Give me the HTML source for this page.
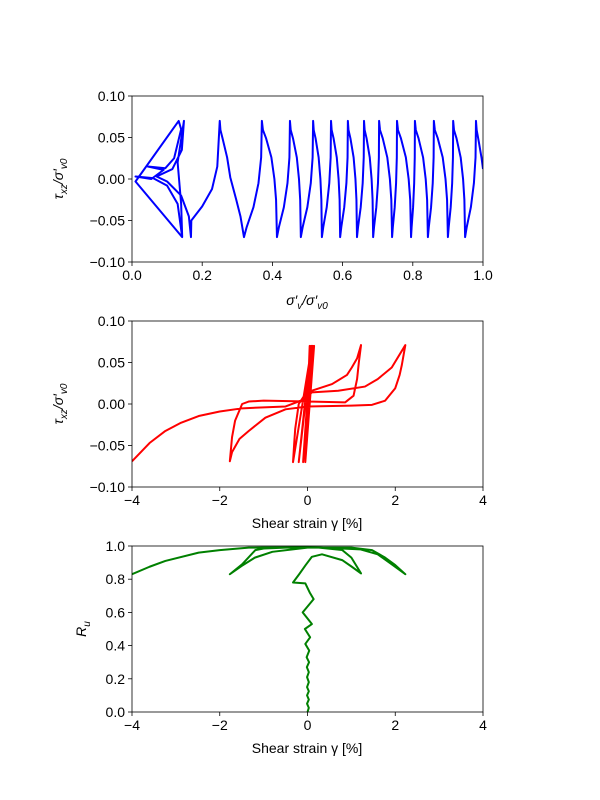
<!DOCTYPE html>
<html><head><meta charset="utf-8">
<style>
html,body{margin:0;padding:0;background:#fff;}
svg{display:block;font-family:"Liberation Sans","DejaVu Sans",sans-serif;}
</style></head>
<body>
<svg id="chart" width="600" height="800" viewBox="0 0 600 800" xmlns="http://www.w3.org/2000/svg"></svg>
<script>
// ---- data ----
const p1Peaks = [0.37,0.45,0.516,0.567,0.615,0.661,0.704,0.755,0.806,0.86,0.915,0.98];
const p1Troughs = [0.413,0.481,0.541,0.593,0.641,0.687,0.741,0.795,0.843,0.90,0.949];
const p1Start = [[0.143,-0.07],[0.01,-0.003],[0.133,0.07],[0.14,0.06],[0.12,0.025],[0.095,0.013],[0.045,0.015],[0.09,0.011],[0.055,0.0],[0.01,0.003],[0.06,0.001],[0.1,-0.008],[0.13,-0.03],[0.143,-0.07],[0.14,-0.03],[0.13,0.02],[0.148,0.07],[0.142,0.035],[0.115,0.012],[0.07,0.003],[0.1,-0.003],[0.14,-0.02],[0.162,-0.045],[0.168,-0.07],[0.169,-0.05],[0.2,-0.033],[0.228,-0.012],[0.243,0.015],[0.25,0.07],[0.252,0.059],[0.258,0.049],[0.271,0.026],[0.28,0.002],[0.297,-0.025],[0.309,-0.045],[0.319,-0.07]];
const p1End = [1.0,0.012];

const p2Path = [[0,0],[0.05,0.07],[-0.05,-0.07],[0.1,0.07],[-0.1,-0.07],[0.12,0.07],[-0.05,-0.07],[0.15,0.07],[-0.1,-0.07],[0.08,0.07],[-0.2,-0.07],[0.1,0.07],[-0.33,-0.07],[-0.3,-0.045],[-0.28,-0.03],[-0.2,0.0],[-0.05,0.012],[0.1,0.016],[0.56,0.024],[0.9,0.035],[1.01,0.044],[1.13,0.055],[1.22,0.071],[1.17,0.05],[1.13,0.03],[1.05,0.01],[0.86,0.002],[0,0.003],[-1.0,0.004],[-1.34,0.003],[-1.49,0.0],[-1.65,-0.02],[-1.72,-0.04],[-1.77,-0.069],[-1.72,-0.058],[-1.55,-0.042],[-1.34,-0.0325],[-0.96,-0.0165],[-0.5,-0.0064],[0,-0.003],[1.0,-0.002],[1.47,-0.001],[1.77,0.004],[2.0,0.019],[2.1,0.035],[2.15,0.047],[2.23,0.071],[1.92,0.044],[1.6,0.03],[1.31,0.021],[0.7,0.016],[0.1,0.014],[-0.1,0.005],[-0.5,-0.003],[-1.0,-0.004],[-1.49,-0.0052],[-2.0,-0.009],[-2.48,-0.0145],[-2.9,-0.023],[-3.24,-0.0325],[-3.6,-0.047],[-4,-0.069]];

const p3Path = [[0,0],[0.03,0.025],[-0.01,0.05],[0.03,0.075],[-0.01,0.1],[0.03,0.125],[-0.01,0.15],[0.03,0.18],[-0.01,0.21],[0.03,0.24],[-0.015,0.27],[0.035,0.3],[-0.02,0.33],[0.04,0.37],[-0.05,0.41],[0.06,0.45],[-0.06,0.5],[0.1,0.53],[-0.11,0.6],[0.14,0.68],[0.05,0.72],[-0.05,0.775],[-0.33,0.78],[-0.19,0.83],[-0.04,0.886],[0.1,0.935],[0.33,0.95],[0.79,0.915],[1.01,0.875],[1.22,0.835],[1.0,0.93],[0.79,0.976],[0.26,0.99],[-0.5,0.99],[-1.0,0.985],[-1.19,0.975],[-1.49,0.89],[-1.77,0.83],[-1.5,0.88],[-1.2,0.93],[-0.8,0.965],[0,0.99],[1.0,0.99],[1.47,0.975],[1.77,0.93],[2.0,0.885],[2.23,0.83],[1.92,0.89],[1.6,0.95],[1.2,0.98],[0,0.995],[-1.34,0.99],[-2.0,0.975],[-2.48,0.96],[-3.24,0.91],[-3.6,0.875],[-4,0.83]];

const p1XTicks=[0,0.2,0.4,0.6,0.8,1.0], p1XLabels=["0.0","0.2","0.4","0.6","0.8","1.0"];
const tauTicks=[-0.1,-0.05,0,0.05,0.1], tauLabels=["\u22120.10","\u22120.05","0.00","0.05","0.10"];
const strainTicks=[-4,-2,0,2,4], strainLabels=["\u22124","\u22122","0","2","4"];
const ruTicks=[0,0.2,0.4,0.6,0.8,1.0], ruLabels=["0.0","0.2","0.4","0.6","0.8","1.0"];

// ---- helpers ----
const NS="http://www.w3.org/2000/svg";
const svg=document.getElementById('chart');
function mk(tag,attrs,parent){const e=document.createElementNS(NS,tag);for(const k in attrs)e.setAttribute(k,attrs[k]);(parent||svg).appendChild(e);return e;}
function lin(d0,d1,r0,r1){return v=>r0+(v-d0)/(d1-d0)*(r1-r0);}
const L=132,R=483;

function axes(name,top,bot,xs,ys,xt,xl,yt,yl){
  const g=mk('g',{});
  
  
  xt.forEach((t,i)=>{const x=xs(t);
    const tk=mk('line',{x1:x,x2:x,y1:bot,y2:bot+4,stroke:'#000','stroke-width':0.8},g);
    
    const tx=mk('text',{x:x,y:bot+18,'text-anchor':'middle','font-size':14},g);tx.textContent=xl[i];
    });
  yt.forEach((t,i)=>{const y=ys(t);
    const tk=mk('line',{x1:L-4,x2:L,y1:y,y2:y,stroke:'#000','stroke-width':0.8},g);
    
    const tx=mk('text',{x:L-7,y:y+5,'text-anchor':'end','font-size':14},g);tx.textContent=yl[i];
    });
  return g;
}
function frame(name,top,bot){const r=mk('rect',{x:L,y:top,width:R-L,height:bot-top,fill:'none',stroke:'#000','stroke-width':0.8});
  }
function line(pts,xs,ys,color,name,top,bot){
  const cid='clip-'+name;
  const cp=mk('clipPath',{id:cid});mk('rect',{x:L,y:top-1,width:R-L,height:bot-top+2},cp);
  const d=pts.map((p,i)=>(i?'L':'M')+xs(p[0]).toFixed(2)+' '+ys(p[1]).toFixed(2)).join(' ');
  const p=mk('path',{d:d,fill:'none',stroke:color,'stroke-width':2,'stroke-linejoin':'round','clip-path':'url(#'+cid+')'});
  
}

// ---- plot 1 ----
{const top=96,bot=262;const xs=lin(0,1,L,R),ys=lin(-0.1,0.1,bot,top);
 axes('stress-path-axes',top,bot,xs,ys,p1XTicks,p1XLabels,tauTicks,tauLabels);
 const pts=p1Start.slice();
 let prevT=0.319;
 p1Peaks.forEach((p,i)=>{
   const r=p-prevT;
   pts.push([prevT+0.15*r,-0.058],[prevT+0.53*r,-0.034],[prevT+0.81*r,-0.005],[prevT+0.96*r,0.026],[p,0.07]);
   const t=i<p1Troughs.length?p1Troughs[i]:null;
   if(t!==null){const d=t-p;pts.push([p+0.07*d,0.059],[p+0.28*d,0.049],[p+0.63*d,0.026],[p+0.83*d,0.0],[p+0.94*d,-0.025],[t,-0.07]);prevT=t;}
   else{const d=p1End[0]-p;pts.push([p+0.1*d,0.059],[p+0.4*d,0.045],[p+0.8*d,0.025],p1End);} });
 line(pts,xs,ys,'#0000ff','stress-path-line',top,bot);
 frame('stress-path-plot-area',top,bot);
 const xl=mk('text',{x:307,y:305,'text-anchor':'middle','font-size':14,'font-style':'italic'});
 xl.innerHTML='σ\u2032<tspan font-size="10" dy="4">v</tspan><tspan dy="-4">/σ\u2032</tspan><tspan font-size="10" dy="4">v0</tspan>';
 
 const yl=mk('text',{x:0,y:0,'text-anchor':'middle','font-size':14,'font-style':'italic',transform:'translate(63,179) rotate(-90)'});
 yl.innerHTML='τ<tspan font-size="10" dy="4">xz</tspan><tspan dy="-4">/σ\u2032</tspan><tspan font-size="10" dy="4">v0</tspan>';
 
}
// ---- plot 2 ----
{const top=321,bot=487;const xs=lin(-4,4,L,R),ys=lin(-0.1,0.1,bot,top);
 axes('stress-strain-axes',top,bot,xs,ys,strainTicks,strainLabels,tauTicks,tauLabels);
 line(p2Path,xs,ys,'#ff0000','stress-strain-line',top,bot);
 frame('stress-strain-plot-area',top,bot);
 const xl=mk('text',{x:307,y:528,'text-anchor':'middle','font-size':14});xl.textContent='Shear strain γ [%]';
 
 const yl=mk('text',{x:0,y:0,'text-anchor':'middle','font-size':14,'font-style':'italic',transform:'translate(63,404) rotate(-90)'});
 yl.innerHTML='τ<tspan font-size="10" dy="4">xz</tspan><tspan dy="-4">/σ\u2032</tspan><tspan font-size="10" dy="4">v0</tspan>';
 
}
// ---- plot 3 ----
{const top=546,bot=712;const xs=lin(-4,4,L,R),ys=lin(0,1,bot,top);
 axes('pore-pressure-axes',top,bot,xs,ys,strainTicks,strainLabels,ruTicks,ruLabels);
 line(p3Path,xs,ys,'#008000','pore-pressure-line',top,bot);
 frame('pore-pressure-plot-area',top,bot);
 const xl=mk('text',{x:307,y:753,'text-anchor':'middle','font-size':14});xl.textContent='Shear strain γ [%]';
 
 const yl=mk('text',{x:0,y:0,'text-anchor':'middle','font-size':14,'font-style':'italic',transform:'translate(86,629) rotate(-90)'});
 yl.innerHTML='R<tspan font-size="10" dy="4">u</tspan>';
 
}
</script>
</body></html>
